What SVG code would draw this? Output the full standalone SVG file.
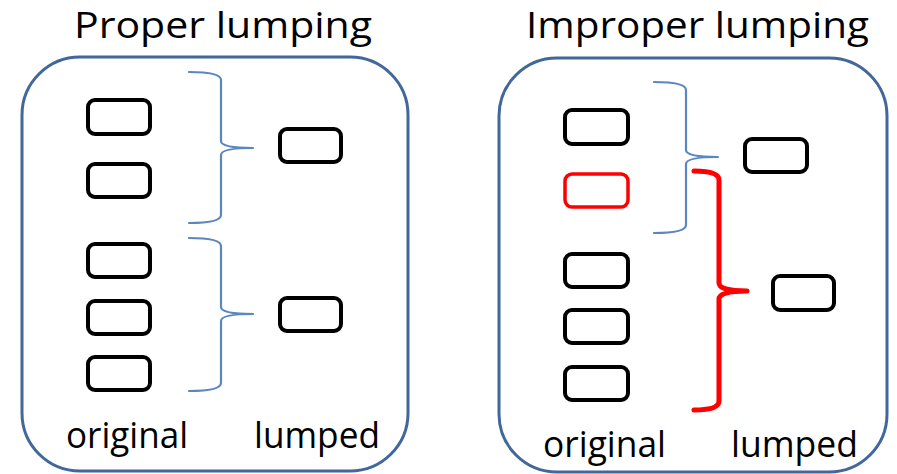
<svg xmlns="http://www.w3.org/2000/svg" width="897" height="474" viewBox="0 0 897 474">
  <style>
    .title { font-family: "Open Sans", "Noto Sans", "Liberation Sans", sans-serif; font-size: 36px; fill: #000; }
    .label { font-family: "Open Sans", "Noto Sans", "Liberation Sans", sans-serif; font-size: 36px; fill: #000; }
    .panel { fill: #fff; stroke: #41679B; stroke-width: 3; }
    .state { fill: #fff; stroke: #000; stroke-width: 4; }
    .bad { fill: #fff; stroke: #FF0000; stroke-width: 3.5; }
    .brace { fill: none; stroke: #5B87C0; stroke-width: 2.2; stroke-linejoin: round; stroke-linecap: round; }
    .brace-bad { fill: none; stroke: #FF0000; stroke-width: 5; stroke-linejoin: round; stroke-linecap: round; }
  </style>
  <rect width="897" height="474" fill="#fff"/>

  <!-- Proper lumping panel -->
  <g id="panel-proper">
    <rect class="panel" x="22" y="57" width="386" height="414" rx="58" ry="58"/>
    <text class="title" x="74" y="38" textLength="298" lengthAdjust="spacingAndGlyphs">Proper lumping</text>
    <text class="label" x="66" y="448" textLength="122" lengthAdjust="spacingAndGlyphs">original</text>
    <text class="label" x="254" y="448" textLength="126" lengthAdjust="spacingAndGlyphs">lumped</text>
  </g>
  <g id="proper-orig-1"><rect class="state" x="88" y="100" width="62" height="34" rx="7"/></g>
  <g id="proper-orig-2"><rect class="state" x="88" y="164" width="62" height="33" rx="7"/></g>
  <g id="proper-orig-3"><rect class="state" x="88" y="244" width="62" height="33" rx="7"/></g>
  <g id="proper-orig-4"><rect class="state" x="88" y="301" width="62" height="33" rx="7"/></g>
  <g id="proper-orig-5"><rect class="state" x="88" y="357" width="62" height="33" rx="7"/></g>
  <g id="proper-lumped-1"><rect class="state" x="280" y="129" width="61" height="33" rx="7"/></g>
  <g id="proper-lumped-2"><rect class="state" x="280" y="298" width="61" height="33" rx="7"/></g>

  <!-- Improper lumping panel -->
  <g id="panel-improper">
    <rect class="panel" x="499" y="58" width="388" height="414" rx="58" ry="58"/>
    <text class="title" x="526" y="38" textLength="343" lengthAdjust="spacingAndGlyphs">Improper lumping</text>
    <text class="label" x="543" y="457" textLength="123" lengthAdjust="spacingAndGlyphs">original</text>
    <text class="label" x="731" y="457" textLength="127" lengthAdjust="spacingAndGlyphs">lumped</text>
  </g>
  <g id="improper-orig-1"><rect class="state" x="565" y="110" width="63" height="34" rx="7"/></g>
  <g id="improper-orig-2"><rect class="bad" x="565" y="174" width="63" height="33" rx="7"/></g>
  <g id="improper-orig-3"><rect class="state" x="565" y="254" width="63" height="33" rx="7"/></g>
  <g id="improper-orig-4"><rect class="state" x="565" y="310" width="63" height="33" rx="7"/></g>
  <g id="improper-orig-5"><rect class="state" x="565" y="367" width="63" height="33" rx="7"/></g>
  <g id="improper-lumped-1"><rect class="state" x="745" y="139" width="62" height="33" rx="7"/></g>
  <g id="improper-lumped-2"><rect class="state" x="773" y="276" width="61" height="34" rx="7"/></g>

  <!-- braces grouping original states into lumped states -->
  <g id="connectors">
    <path class="brace" d="M189,72 Q221,72 221,80 L221,141 Q221,148 253,148 Q221,148 221,155 L221,215 Q221,223 189,223"/>
    <path class="brace" d="M189,238 Q221,238 221,246 L221,307 Q221,314 253,314 Q221,314 221,321 L221,383 Q221,391 189,391"/>
    <path class="brace" d="M654,82 Q686,82 686,90 L686,150 Q686,157 718,157 Q686,157 686,164 L686,225 Q686,233 654,233"/>
    <path class="brace-bad" d="M694,171 Q719,171 719,180 L719,283 Q719,291 747,291 Q719,291 719,299 L719,401 Q719,410 694,410"/>
  </g>
</svg>
